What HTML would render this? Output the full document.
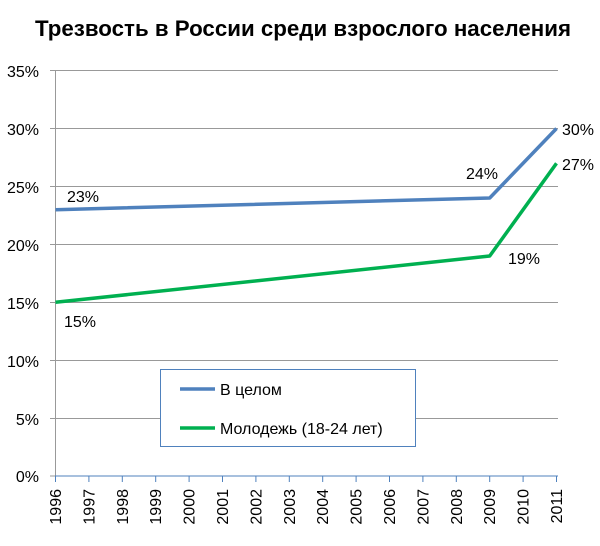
<!DOCTYPE html>
<html><head><meta charset="utf-8"><style>body{margin:0;background:#fff}</style></head><body>
<svg width="600" height="541" xmlns="http://www.w3.org/2000/svg" font-family="Liberation Sans, DejaVu Sans, sans-serif">
<rect width="600" height="541" fill="#fff"/>
<text x="303" y="36" text-anchor="middle" font-size="22" font-weight="bold" textLength="536" lengthAdjust="spacingAndGlyphs">Трезвость в России среди взрослого населения</text>
<g stroke="#999" stroke-width="1">
<line x1="50" y1="70.5" x2="558" y2="70.5"/>
<line x1="50" y1="128.5" x2="558" y2="128.5"/>
<line x1="50" y1="186.5" x2="558" y2="186.5"/>
<line x1="50" y1="244.5" x2="558" y2="244.5"/>
<line x1="50" y1="302.5" x2="558" y2="302.5"/>
<line x1="50" y1="360.5" x2="558" y2="360.5"/>
<line x1="50" y1="418.5" x2="558" y2="418.5"/>
<line x1="50" y1="476" x2="55" y2="476"/>
<line x1="55.5" y1="70" x2="55.5" y2="476"/>
</g>
<line x1="55" y1="476" x2="558" y2="476" stroke="#4f81bd" stroke-width="1"/>
<g stroke="#4f81bd" stroke-width="1">
<line x1="55.5" y1="476" x2="55.5" y2="482"/><line x1="88.9" y1="476" x2="88.9" y2="482"/><line x1="122.3" y1="476" x2="122.3" y2="482"/><line x1="155.7" y1="476" x2="155.7" y2="482"/><line x1="189.1" y1="476" x2="189.1" y2="482"/><line x1="222.5" y1="476" x2="222.5" y2="482"/><line x1="255.9" y1="476" x2="255.9" y2="482"/><line x1="289.3" y1="476" x2="289.3" y2="482"/><line x1="322.7" y1="476" x2="322.7" y2="482"/><line x1="356.1" y1="476" x2="356.1" y2="482"/><line x1="389.5" y1="476" x2="389.5" y2="482"/><line x1="422.9" y1="476" x2="422.9" y2="482"/><line x1="456.3" y1="476" x2="456.3" y2="482"/><line x1="489.7" y1="476" x2="489.7" y2="482"/><line x1="523.1" y1="476" x2="523.1" y2="482"/><line x1="556.5" y1="476" x2="556.5" y2="482"/>
</g>
<g font-size="16" text-anchor="end" fill="#000">
<text x="39" y="77">35%</text><text x="39" y="135">30%</text><text x="39" y="193">25%</text><text x="39" y="251">20%</text><text x="39" y="309">15%</text><text x="39" y="367">10%</text><text x="39" y="425">5%</text><text x="39" y="482">0%</text>
</g>
<g font-size="16" text-anchor="end">
<text transform="translate(61,489) rotate(-90)">1996</text><text transform="translate(94.4,489) rotate(-90)">1997</text><text transform="translate(127.8,489) rotate(-90)">1998</text><text transform="translate(161.2,489) rotate(-90)">1999</text><text transform="translate(194.6,489) rotate(-90)">2000</text><text transform="translate(228,489) rotate(-90)">2001</text><text transform="translate(261.4,489) rotate(-90)">2002</text><text transform="translate(294.8,489) rotate(-90)">2003</text><text transform="translate(328.2,489) rotate(-90)">2004</text><text transform="translate(361.6,489) rotate(-90)">2005</text><text transform="translate(395,489) rotate(-90)">2006</text><text transform="translate(428.4,489) rotate(-90)">2007</text><text transform="translate(461.8,489) rotate(-90)">2008</text><text transform="translate(495.2,489) rotate(-90)">2009</text><text transform="translate(528.6,489) rotate(-90)">2010</text><text transform="translate(562,489) rotate(-90)">2011</text>
</g>
<polyline points="55.5,209.7 489.7,198 556.5,128.5" fill="none" stroke="#4f81bd" stroke-width="3.5" stroke-linejoin="round"/>
<polyline points="55.5,302.3 489.7,256 556.5,163.3" fill="none" stroke="#00b050" stroke-width="3.5" stroke-linejoin="round"/>
<g font-size="16">
<text x="67" y="202">23%</text><text x="466" y="179">24%</text><text x="562" y="135">30%</text>
<text x="64" y="327">15%</text><text x="508" y="264">19%</text><text x="562" y="170">27%</text>
</g>
<rect x="160.5" y="369.5" width="255" height="77" fill="#fff" stroke="#4f81bd" stroke-width="1"/>
<line x1="180" y1="389" x2="215" y2="389" stroke="#4f81bd" stroke-width="3.5"/>
<line x1="180" y1="428" x2="215" y2="428" stroke="#00b050" stroke-width="3.5"/>
<g font-size="16"><text x="220" y="395">В целом</text><text x="220" y="434">Молодежь (18-24 лет)</text></g>
</svg>
</body></html>
